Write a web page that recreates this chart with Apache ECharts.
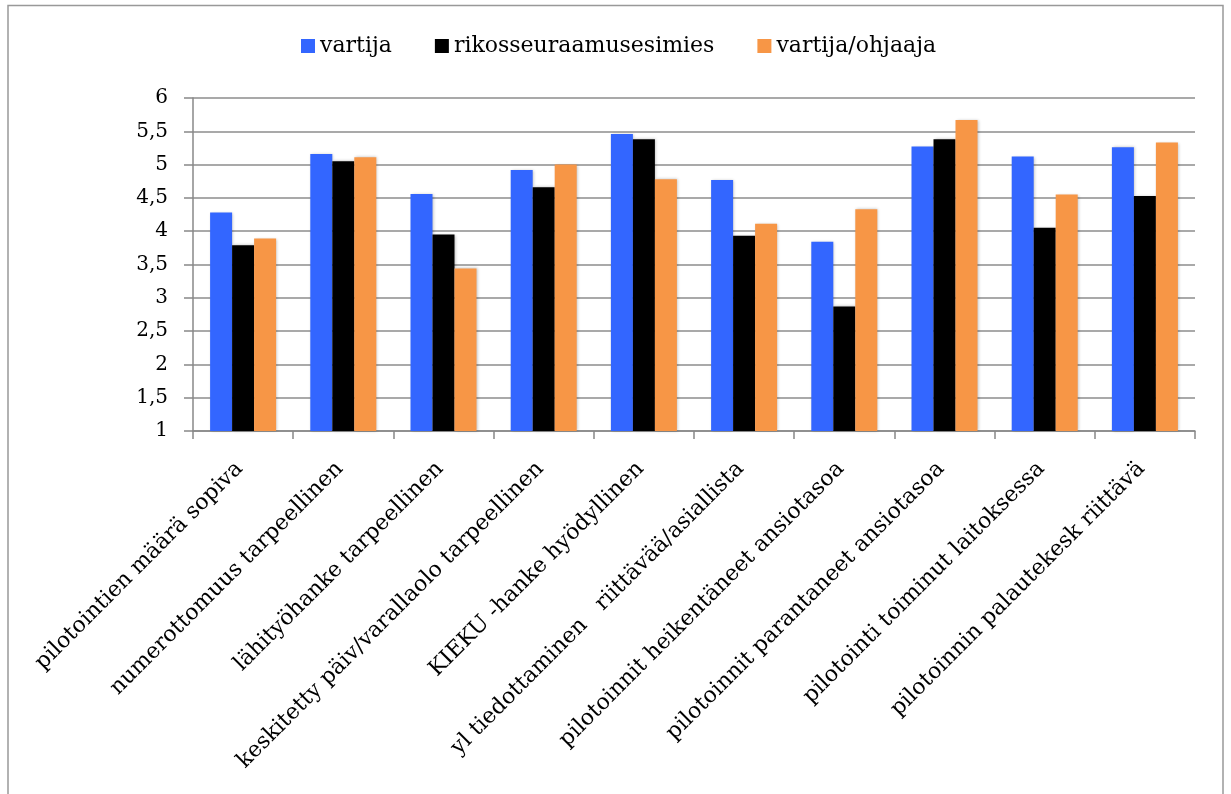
<!DOCTYPE html>
<html>
<head>
<meta charset="utf-8">
<script src="https://cdn.jsdelivr.net/npm/echarts@6/dist/echarts.min.js"></script>
<style>
html,body{margin:0;padding:0;background:#fff;}
#chart{width:1231px;height:794px;}
</style>
</head>
<body>
<div id="chart"></div>
<script>
const categories = [
  "pilotointien määrä sopiva",
  "numerottomuus tarpeellinen",
  "lähityöhanke tarpeellinen",
  "keskitetty päiv/varallaolo tarpeellinen",
  "KIEKU -hanke hyödyllinen",
  "yl tiedottaminen   riittävää/asiallista",
  "pilotoinnit heikentäneet ansiotasoa",
  "pilotoinnit parantaneet ansiotasoa",
  "pilotointi toiminut laitoksessa",
  "pilotoinnin palautekesk riittävä"
];
const seriesNames = ["vartija", "rikosseuraamusesimies", "vartija/ohjaaja"];
const vartija = [4.28, 5.16, 4.56, 4.92, 5.46, 4.77, 3.84, 5.27, 5.12, 5.26];
const rikosseuraamusesimies = [3.79, 5.05, 3.95, 4.66, 5.38, 3.93, 2.87, 5.38, 4.05, 4.53];
const vartijaOhjaaja = [3.89, 5.11, 3.44, 5.00, 4.78, 4.11, 4.33, 5.67, 4.55, 5.33];
const yTickLabels = ["1","1,5","2","2,5","3","3,5","4","4,5","5","5,5","6"];

const colors = ["#3366FF", "#000000", "#F79646"];
const FONT = "DejaVu Serif";
const chart = echarts.init(document.getElementById('chart'), null, {renderer: 'canvas'});

function barSeries(name, data, color) {
  return {
    name: name,
    type: 'bar',
    data: data,
    barWidth: 22,
    barGap: '0%',
    itemStyle: {
      color: color,
      shadowColor: 'rgba(0,0,0,0.25)',
      shadowBlur: 3,
      shadowOffsetX: 1,
      shadowOffsetY: 0
    },
    emphasis: {disabled: true}
  };
}

chart.setOption({
  animation: false,
  backgroundColor: '#ffffff',
  color: colors,
  textStyle: {fontFamily: FONT, color: '#000'},
  graphic: [{
    type: 'rect',
    shape: {x: 8, y: 5.5, width: 1215, height: 900},
    style: {fill: 'none', stroke: '#999999', lineWidth: 1.5},
    silent: true
  }],
  legend: {
    data: seriesNames,
    left: 296,
    top: 30,
    itemWidth: 14,
    itemHeight: 14,
    itemGap: 43,
    icon: 'rect',
    textStyle: {fontFamily: FONT, fontSize: 22, color: '#000'}
  },
  grid: {left: 193, right: 36, top: 98, bottom: 363, containLabel: false},
  xAxis: {
    type: 'category',
    data: categories,
    axisLine: {lineStyle: {color: '#888888', width: 1.5}},
    axisTick: {show: true, length: 8, alignWithLabel: false, lineStyle: {color: '#888888', width: 1.5}},
    axisLabel: {
      interval: 0,
      rotate: 45,
      margin: 31,
      padding: [0, 5, 0, 0],
      fontFamily: FONT,
      fontSize: 22,
      color: '#000'
    },
    splitLine: {show: false}
  },
  yAxis: {
    type: 'value',
    min: 1,
    max: 6,
    interval: 0.5,
    axisLine: {show: true, lineStyle: {color: '#888888', width: 1.5}},
    axisTick: {show: true, length: 9, lineStyle: {color: '#888888', width: 1.5}},
    axisLabel: {
      margin: 25,
      fontFamily: FONT,
      fontSize: 20,
      color: '#000',
      formatter: function (v) {
        const idx = Math.round((v - 1) / 0.5);
        return yTickLabels[idx] !== undefined ? yTickLabels[idx] : String(v);
      }
    },
    splitLine: {show: true, lineStyle: {color: '#8c8c8c', width: 1.5}}
  },
  series: [
    barSeries(seriesNames[0], vartija, colors[0]),
    barSeries(seriesNames[1], rikosseuraamusesimies, colors[1]),
    barSeries(seriesNames[2], vartijaOhjaaja, colors[2])
  ]
});
</script>
</body>
</html>
